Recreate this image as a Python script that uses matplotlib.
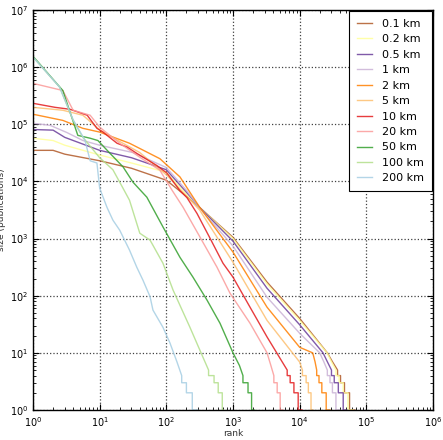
import matplotlib
matplotlib.use("Agg")
import matplotlib.pyplot as plt
from matplotlib.ticker import LogLocator

labels = ['0.1 km', '0.2 km', '0.5 km', '1 km', '2 km', '5 km', '10 km',
          '20 km', '50 km', '100 km', '200 km']
colors = ['#b15928', '#ffff99', '#6a3d9a', '#cab2d6', '#ff7f00', '#fdbf6f',
          '#e31a1c', '#fb9a99', '#33a02c', '#b2df8a', '#a6cee3']

rank_01 = [1, 2, 3, 10, 30, 100, 200, 316, 1000, 3240, 10000, 26000, 31000, 37000, 37000,
           41000, 41000, 47000, 47000, 56000, 56000, 67000]
size_01 = [35000, 35000, 30000, 23000, 17000, 10500, 5500, 3500, 1050, 173, 40, 10, 7, 5, 4,
           4, 3, 3, 2, 2, 1, 1]

rank_02 = [1, 2, 3, 10, 30, 100, 200, 316, 1000, 3240, 10000, 25800, 30000, 35000, 35000,
           39000, 39000, 45000, 45000, 53000, 53000, 63000]
size_02 = [57000, 52000, 43000, 29000, 21000, 14500, 6000, 3500, 1000, 160, 37, 10, 7, 5, 4,
           4, 3, 3, 2, 2, 1, 1]

rank_05 = [1, 2, 3, 10, 30, 100, 200, 316, 1000, 3240, 10000, 22400, 26000, 30000, 30000,
           33000, 33000, 38000, 38000, 45000, 45000, 51000]
size_05 = [81000, 79000, 59000, 35000, 26000, 16000, 6500, 3500, 900, 135, 31, 10, 7, 5, 4,
           4, 3, 3, 2, 2, 1, 1]

rank_1 = [1, 1.8, 3.2, 5.6, 10, 31.6, 100, 200, 316, 1000, 3240, 10000, 20000, 23000, 26000,
          26000, 28500, 28500, 31000, 31000, 35000, 35000, 40000]
size_1 = [104000, 96000, 72000, 52000, 43000, 32000, 17500, 7000, 3400, 740, 94, 22, 10, 7, 5,
          4, 4, 3, 3, 2, 2, 1, 1]

rank_2 = [1, 2.8, 5.6, 10, 28, 80, 160, 316, 1000, 3240, 10000, 15700, 17000, 18000, 18000,
          19500, 19500, 21500, 21500, 25000, 25000, 28500]
size_2 = [150000, 117000, 85000, 73000, 46600, 25000, 12000, 3540, 580, 63, 12.5, 10, 7, 5, 4,
          4, 3, 3, 2, 2, 1, 1]

rank_5 = [1, 2.8, 5.6, 10, 20, 40, 102, 316, 1000, 3240, 10000, 11000, 11000, 12500, 12500,
          13500, 13500, 14800, 14800, 15800]
size_5 = [198000, 176000, 144000, 80000, 50000, 32000, 12800, 3160, 385, 37, 6.9, 5, 4, 4, 3,
          3, 2, 2, 1, 1]

rank_10 = [1, 2.14, 3.6, 6.5, 9.1, 11.2, 18.2, 25.7, 36, 72, 102, 160, 204, 288, 452, 708,
           1000, 1800, 3240, 5620, 6500, 6500, 7200, 7200, 8200, 8200, 9500, 9500, 10800]
size_10 = [233000, 198000, 183000, 144000, 85000, 73000, 46600, 40000, 31000, 19000, 14000,
           6900, 5200, 2760, 1015, 370, 211, 63, 19, 6.6, 5, 4, 4, 3, 3, 2, 2, 1, 1]

rank_20 = [1, 2.8, 4, 7.2, 10, 20, 40, 80, 122, 178, 320, 575, 900, 1800, 3240, 3700, 4100,
           4100, 4600, 4600, 5100, 5100, 5600]
size_20 = [520000, 390000, 176000, 144000, 89000, 46600, 26500, 15700, 7000, 3540, 1060, 316,
           111, 33, 10, 6, 4, 3, 3, 2, 2, 1, 1]

rank_50 = [1, 2.8, 4.7, 7.2, 9.4, 14.3, 22.4, 31.6, 51, 89, 160, 251, 407, 638, 1000, 1250,
           1410, 1410, 1680, 1680, 1900, 1900, 2070]
size_50 = [1550000, 390000, 64000, 57000, 52000, 31000, 18000, 9700, 5300, 1600, 470, 211, 84,
           33, 10, 6, 4, 3, 3, 2, 2, 1, 1]

rank_100 = [1, 2.5, 4, 5.6, 10, 15.8, 22, 28, 40, 57, 89, 126, 160, 226, 320, 430, 430, 520,
            520, 600, 600, 690, 690, 720]
size_100 = [1500000, 450000, 117000, 59000, 26000, 16000, 7900, 4700, 1240, 940, 370, 126, 68,
            28, 11, 5, 4, 4, 3, 3, 2, 2, 1, 1]

rank_200 = [1, 2.5, 4, 6, 7.2, 9.1, 10, 12.9, 15.8, 20, 28, 36, 44.6, 57, 63, 89, 113, 144,
            170, 170, 200, 200, 245, 245, 295]
size_200 = [1500000, 450000, 120000, 53000, 23000, 21000, 7600, 3500, 2100, 1400, 630, 316,
            187, 96, 56, 28, 15, 7, 4, 3, 3, 2, 2, 1, 1]

ranks = [rank_01, rank_02, rank_05, rank_1, rank_2, rank_5, rank_10, rank_20, rank_50,
         rank_100, rank_200]
sizes = [size_01, size_02, size_05, size_1, size_2, size_5, size_10, size_20, size_50,
         size_100, size_200]

fig = plt.figure(figsize=(4.43, 4.40), dpi=100)
ax = fig.add_axes([33 / 443, 30 / 440, 400 / 443, 400 / 440])

for r, s, c, lab in zip(ranks, sizes, colors, labels):
    ax.plot(r, s, color=c, lw=1.0, alpha=0.85, label=lab)

ax.set_xscale('log')
ax.set_yscale('log')
ax.set_xlim(1, 1e6)
ax.set_ylim(1, 1e7)
ax.grid(True, which='major', color='0.25', linestyle=':', linewidth=0.9)
ax.tick_params(which='both', direction='in', top=True, right=True, labelsize=7,
               colors='black')
ax.tick_params(which='major', length=4, width=0.8)
ax.tick_params(which='minor', length=2, width=0.6)
ax.xaxis.set_major_locator(LogLocator(base=10, numticks=10))
ax.yaxis.set_major_locator(LogLocator(base=10, numticks=10))
for sp in ax.spines.values():
    sp.set_linewidth(1.0)
ax.set_xlabel('rank', fontsize=6.5, color='0.2')
ax.set_ylabel('size (publications)', fontsize=6.5, color='0.2')
ax.yaxis.set_label_coords(-0.068, 0.5)
ax.xaxis.set_label_coords(0.5, -0.047)

leg = ax.legend(loc='upper right', fontsize=8, handlelength=1.4, handletextpad=0.9,
                labelspacing=0.49, borderpad=0.7, fancybox=False, framealpha=1,
                edgecolor='black', borderaxespad=0.1)
leg.get_frame().set_linewidth(0.8)

fig.savefig('out.png', dpi=100)
